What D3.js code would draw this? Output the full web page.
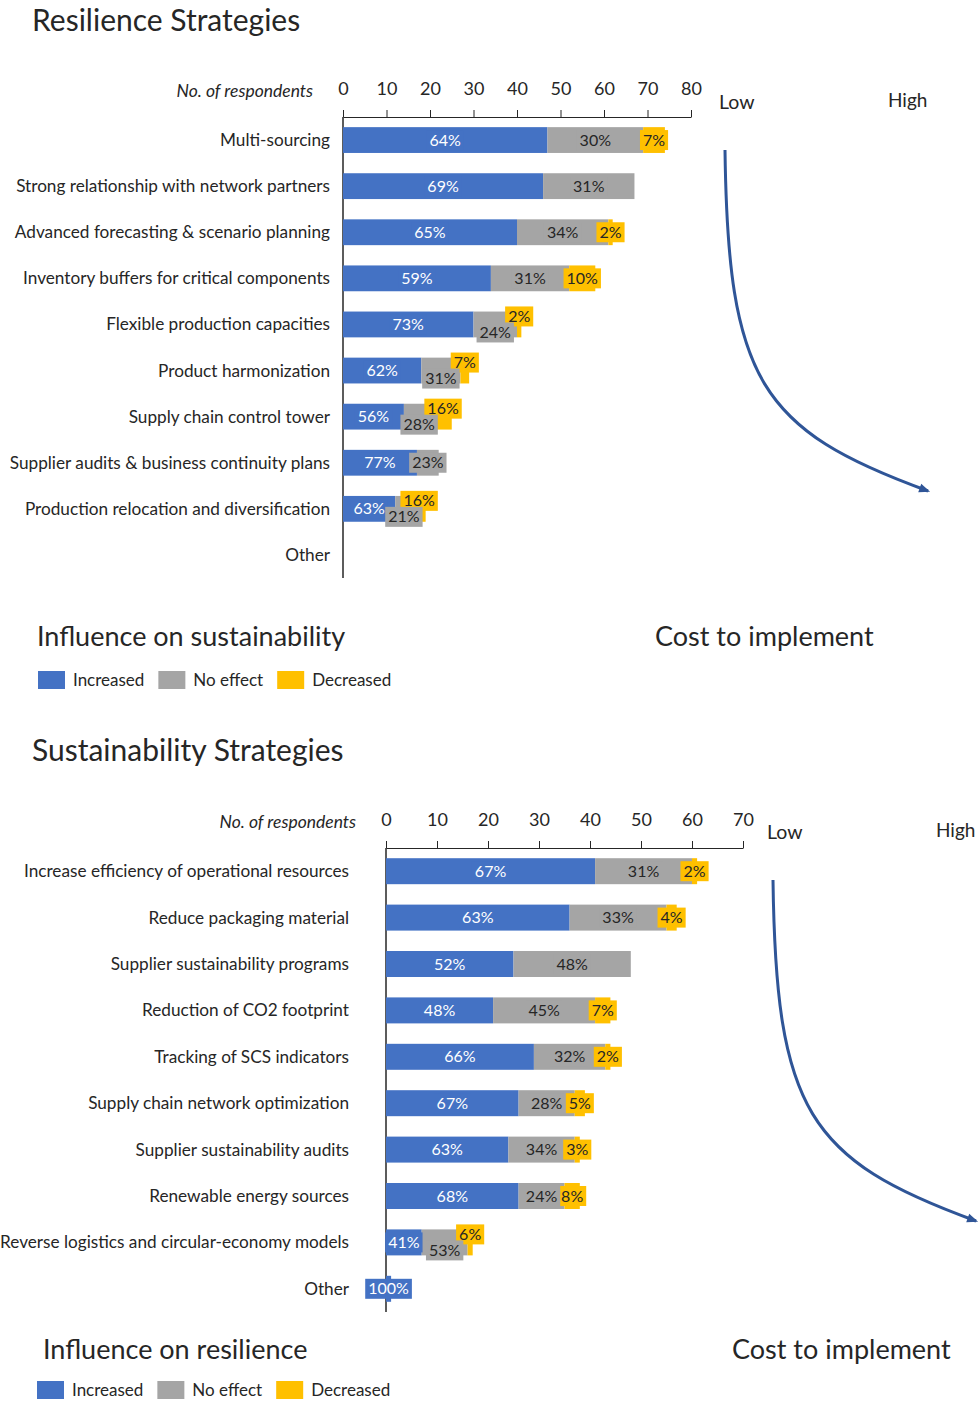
<!DOCTYPE html>
<html>
<head>
<meta charset="utf-8">
<script src="https://cdn.jsdelivr.net/npm/d3@7"></script>
<style>
  body { margin: 0; background: #fff; }
  text { font-family: Lato, "Open Sans", sans-serif; fill: #262626; }
</style>
</head>
<body>
<svg id="chart" width="979" height="1401"></svg>
<script>
// resilience strategies (no. of respondents)
const resCategories = [
  "Multi-sourcing",
  "Strong relationship with network partners",
  "Advanced forecasting & scenario planning",
  "Inventory buffers for critical components",
  "Flexible production capacities",
  "Product harmonization",
  "Supply chain control tower",
  "Supplier audits & business continuity plans",
  "Production relocation and diversification",
  "Other"
];
const resIncreased = [47, 46, 40, 34, 30, 18, 14, 17, 12, 0];
const resNoEffect = [22, 21, 21, 18, 10, 9, 7, 5, 4, 0];
const resDecreased = [5, 0, 1, 6, 1, 2, 4, 0, 3, 0];
const resTicks = [0, 10, 20, 30, 40, 50, 60, 70, 80];

// sustainability strategies
const susCategories = [
  "Increase efficiency of operational resources",
  "Reduce packaging material",
  "Supplier sustainability programs",
  "Reduction of CO2 footprint",
  "Tracking of SCS indicators",
  "Supply chain network optimization",
  "Supplier sustainability audits",
  "Renewable energy sources",
  "Reverse logistics and circular-economy models",
  "Other"
];
const susIncreased = [41, 36, 25, 21, 29, 26, 24, 26, 7, 1];
const susNoEffect = [19, 19, 23, 20, 14, 11, 13, 9, 9, 0];
const susDecreased = [1, 2, 0, 3, 1, 2, 1, 3, 1, 0];
const susTicks = [0, 10, 20, 30, 40, 50, 60, 70];

const seriesKeys = ["Increased", "No effect", "Decreased"];
const seriesColors = ["#4472C4", "#A5A5A5", "#FFC000"];

const svg = d3.select("#chart");
const color = d3.scaleOrdinal().domain(seriesKeys).range(seriesColors);

// arrow head
svg.append("defs")
  .append("marker")
  .attr("id", "arrowHead")
  .attr("viewBox", "0 0 10 10")
  .attr("refX", 8)
  .attr("refY", 5)
  .attr("markerWidth", 13)
  .attr("markerHeight", 11)
  .attr("markerUnits", "userSpaceOnUse")
  .attr("orient", "auto")
  .append("path")
  .attr("d", "M0,1 L10,5 L0,9 Z")
  .attr("fill", "#2F5597");

const LABEL_SIZE = 16;
const measure = svg.append("text").attr("font-size", LABEL_SIZE).attr("visibility", "hidden");
function textWidth(s) {
  measure.text(s);
  return measure.node().getComputedTextLength();
}

function drawPanel(p) {
  const rows = p.categories.map((c, i) => ({
    category: c,
    "Increased": p.inc[i],
    "No effect": p.none[i],
    "Decreased": p.dec[i],
    total: p.inc[i] + p.none[i] + p.dec[i]
  }));

  const x = d3.scaleLinear().domain([0, d3.max(p.ticks)]).range([p.x0, p.x1]);
  const y = d3.scaleBand()
    .domain(p.categories)
    .range([p.y0, p.y1])
    .paddingInner(0.44)
    .paddingOuter(0.22);
  const stacked = d3.stack().keys(seriesKeys)(rows);

  // title
  svg.append("text")
    .attr("x", p.titleX)
    .attr("y", p.titleY)
    .attr("font-size", 30)
    .text(p.title);

  // top axis
  svg.append("g")
    .attr("transform", `translate(0,${p.y0})`)
    .call(d3.axisTop(x).tickValues(p.ticks).tickSizeInner(7).tickSizeOuter(0).tickPadding(15))
    .call((g) => g.attr("font-family", null).attr("font-size", 18))
    .call((g) => g.selectAll("line, path").attr("stroke", "#262626"));

  svg.append("text")
    .attr("x", p.x0 - 30)
    .attr("y", p.y0 - 20)
    .attr("text-anchor", "end")
    .attr("font-size", 17.5)
    .attr("font-style", "italic")
    .text("No. of respondents");

  // vertical axis line
  svg.append("line")
    .attr("x1", p.x0).attr("x2", p.x0)
    .attr("y1", p.y0).attr("y2", p.y1)
    .attr("stroke", "#262626")
    .attr("stroke-width", 1.5);

  // category labels
  svg.append("g")
    .selectAll("text")
    .data(p.categories)
    .enter()
    .append("text")
    .attr("x", p.labelRight)
    .attr("y", (d) => y(d) + y.bandwidth() / 2)
    .attr("dy", "0.35em")
    .attr("text-anchor", "end")
    .attr("font-size", 17.2)
    .text((d) => d);

  // bars
  svg.append("g")
    .selectAll("g")
    .data(stacked)
    .enter()
    .append("g")
    .attr("fill", (d) => color(d.key))
    .selectAll("rect")
    .data((d) => d.filter((s) => s[1] > s[0]))
    .enter()
    .append("rect")
    .attr("x", (d) => x(d[0]))
    .attr("y", (d) => y(d.data.category))
    .attr("width", (d) => x(d[1]) - x(d[0]))
    .attr("height", y.bandwidth());

  // data labels (percent of row total), nudged apart where they collide
  const labelLayer = svg.append("g").attr("font-size", LABEL_SIZE);
  rows.forEach((r, i) => {
    const cy = y(r.category) + y.bandwidth() / 2;
    const segs = seriesKeys.map((k, j) => {
      const s = stacked[j][i];
      const txt = Math.round((r[k] / r.total) * 100) + "%";
      return { key: k, v: r[k], cx: x((s[0] + s[1]) / 2), text: txt, w: textWidth(txt), dy: 0 };
    });
    const [inc, mid, dec] = segs;
    if (mid.v > 0 && dec.v > 0 && mid.cx + mid.w / 2 + 2 > dec.cx - dec.w / 2) {
      mid.dy = 8;
      dec.dy = -8;
    }
    [inc, dec, mid].filter((s) => s.v > 0).forEach((s) => {
      const g = labelLayer.append("g").attr("transform", `translate(${s.cx},${cy + s.dy})`);
      g.append("rect")
        .attr("x", -s.w / 2 - 3)
        .attr("y", -10)
        .attr("width", s.w + 6)
        .attr("height", 20)
        .attr("fill", color(s.key));
      g.append("text")
        .attr("text-anchor", "middle")
        .attr("dy", "0.35em")
        .style("fill", s.key === "Increased" ? "#ffffff" : "#262626")
        .text(s.text);
    });
  });

  // cost arrow
  const arrow = svg.append("g").attr("transform", `translate(${p.arrowDX},${p.arrowDY})`);
  arrow.append("path")
    .attr("d", "M725,150 C728,380 760,430 928,491")
    .attr("fill", "none")
    .attr("stroke", "#2F5597")
    .attr("stroke-width", 3)
    .attr("marker-end", "url(#arrowHead)");
  arrow.append("text").attr("x", 719).attr("y", 109).attr("font-size", 19.5).text("Low");
  arrow.append("text").attr("x", 888).attr("y", 107).attr("font-size", 19).text("High");

  svg.append("text")
    .attr("x", p.costX)
    .attr("y", p.footY)
    .attr("font-size", 27)
    .text("Cost to implement");

  svg.append("text")
    .attr("x", p.influenceX)
    .attr("y", p.footY)
    .attr("font-size", 27)
    .text(p.influence);

  // legend
  const legend = svg.append("g").attr("transform", `translate(${p.legendX},${p.legendY})`);
  let lx = 0;
  seriesKeys.forEach((k) => {
    legend.append("rect")
      .attr("x", lx)
      .attr("y", -14)
      .attr("width", 27)
      .attr("height", 18)
      .attr("fill", color(k));
    const t = legend.append("text")
      .attr("x", lx + 35)
      .attr("y", 1)
      .attr("font-size", 17)
      .text(k);
    lx += 35 + t.node().getComputedTextLength() + 14;
  });
}

drawPanel({
  title: "Resilience Strategies",
  titleX: 32, titleY: 31,
  categories: resCategories,
  inc: resIncreased, none: resNoEffect, dec: resDecreased,
  ticks: resTicks,
  x0: 343, x1: 691, y0: 117, y1: 578,
  labelRight: 330,
  arrowDX: 0, arrowDY: 0,
  influence: "Influence on sustainability",
  influenceX: 37, costX: 655, footY: 646,
  legendX: 38, legendY: 685
});

drawPanel({
  title: "Sustainability Strategies",
  titleX: 32, titleY: 761,
  categories: susCategories,
  inc: susIncreased, none: susNoEffect, dec: susDecreased,
  ticks: susTicks,
  x0: 386, x1: 743, y0: 848, y1: 1312,
  labelRight: 349,
  arrowDX: 48, arrowDY: 730,
  influence: "Influence on resilience",
  influenceX: 43, costX: 732, footY: 1359,
  legendX: 37, legendY: 1395
});
</script>
</body>
</html>
